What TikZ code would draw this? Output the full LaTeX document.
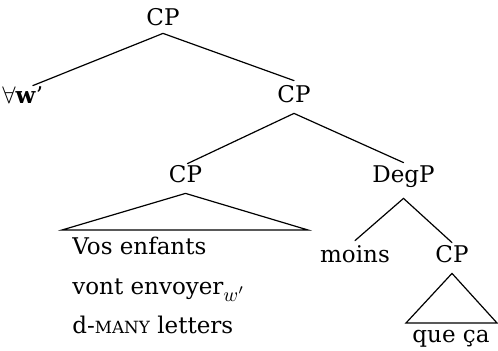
\documentclass[tikz,border=0pt]{standalone}
\usepackage{fontspec}
\setmainfont{DejaVu Serif}
\newcommand{\fakesc}[1]{{\fontsize{8.4}{10}\selectfont #1}}
\newcommand{\wsub}{$_{\mbox{\fontsize{10}{12}\selectfont$w'$}}$}
\begin{document}
\begin{tikzpicture}[x=0.5pt,y=-0.5pt,
  lab/.style={font=\fontsize{11.5}{14}\selectfont, inner xsep=0pt, inner ysep=2.5pt,
              text height=8.5pt, text depth=2.5pt, anchor=base},
  txt/.style={font=\fontsize{11.5}{14}\selectfont, inner sep=0pt, anchor=base west},
  branch/.style={line width=0.6pt, line cap=round}]
\useasboundingbox (0,0) rectangle (498,351);

% labels
\node[lab] (cp1) at (163,26) {CP};
\node[lab, anchor=base west] (forall) at (2,104) {$\forall$\textbf{w}’};
\node[lab] (cp2) at (294,103) {CP};
\node[lab] (cp3) at (185.5,183) {CP};
\node[lab] (degp) at (403.5,183) {DegP};
\node[lab] (moins) at (355,263) {moins};
\node[lab] (cp4) at (452,263) {CP};

% material under the roofs
\node[txt] (l1) at (72,255) {Vos enfants};
\node[txt] (l2) at (72,295) {vont envoyer\wsub};
\node[txt] (l3) at (72,334) {d-\fakesc{MANY} letters};
\node[txt, anchor=base] (qc) at (451,343) {que ça};

% roof corners
\coordinate (r1l) at (62,230);
\coordinate (r1r) at (308,230);
\coordinate (r2l) at (406,323);
\coordinate (r2r) at (497,323);

% branches
\draw[branch] ([yshift=1.5pt]cp1.south) -- ([xshift=5pt,yshift=-2pt]forall.north);
\draw[branch] ([yshift=1.5pt]cp1.south) -- (cp2.north);
\draw[branch] (cp2.south) -- ([xshift=1pt,yshift=-1.5pt]cp3.north);
\draw[branch] (cp2.south) -- ([yshift=-1pt]degp.north);
\draw[branch] ([yshift=-2.5pt]degp.south) -- (moins.north);
\draw[branch] ([yshift=-2.5pt]degp.south) -- ([yshift=-1pt]cp4.north);

% roofs
\draw[branch, line join=miter] (cp3.south) -- (r1l) -- (r1r) -- cycle;
\draw[branch, line join=miter] (cp4.south) -- (r2l) -- (r2r) -- cycle;
\end{tikzpicture}
\end{document}
